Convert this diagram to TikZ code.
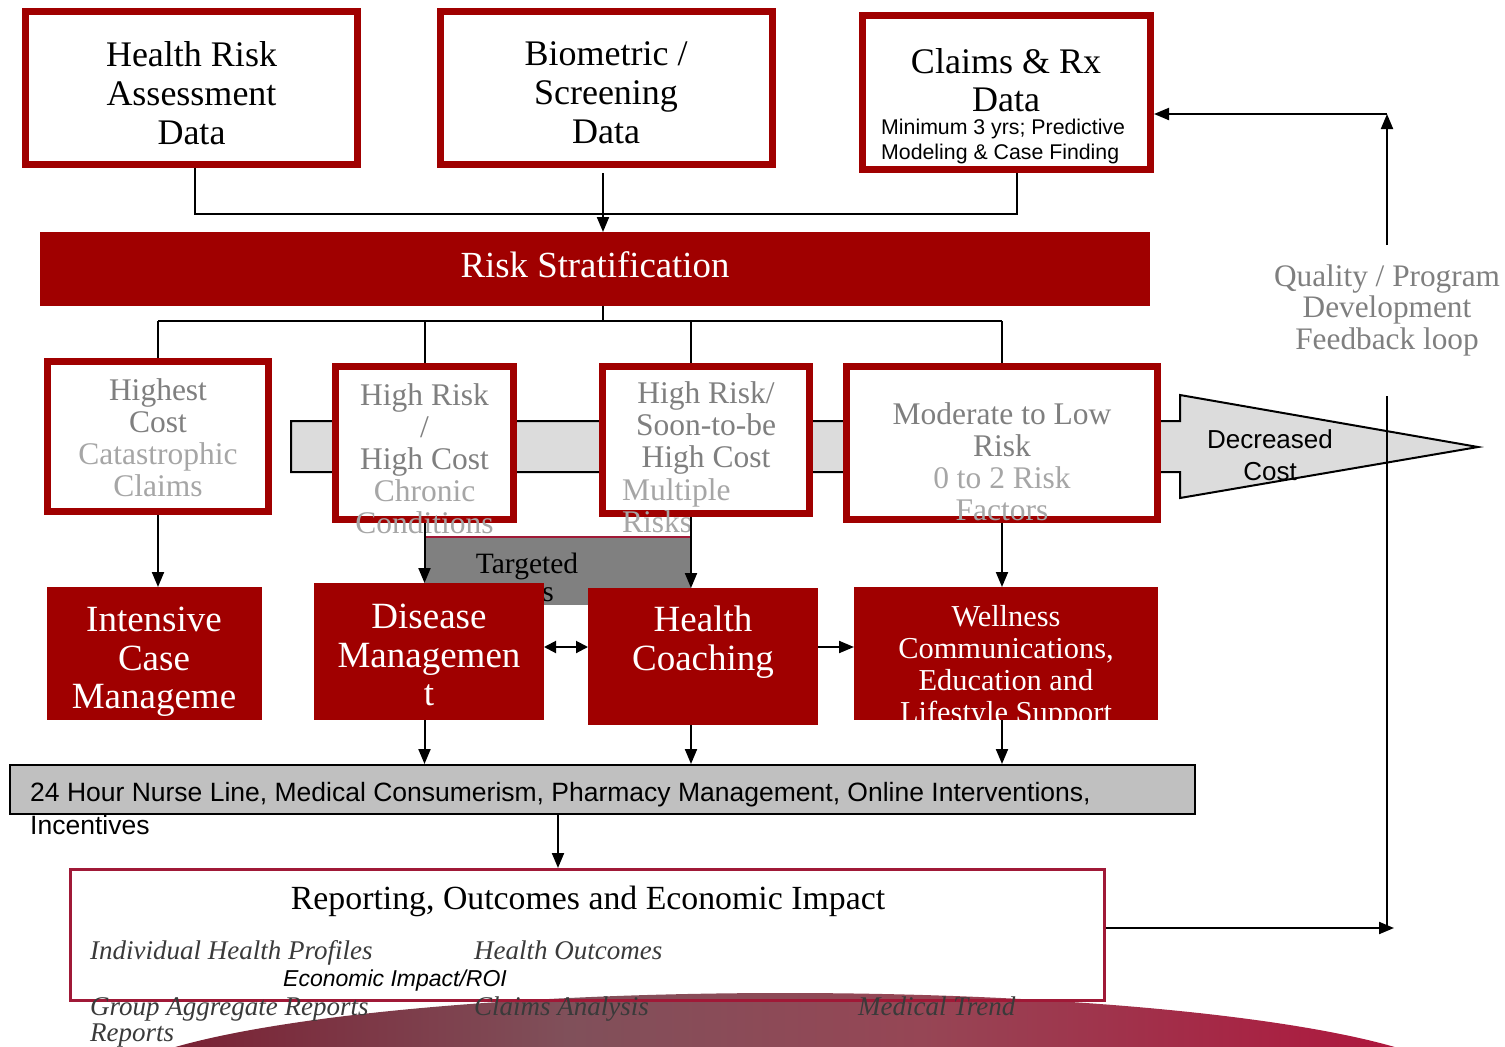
\documentclass[tikz,border=0pt]{standalone}
\usepackage{fontspec}
\setmainfont{Liberation Serif}
\setsansfont{Liberation Sans}
\usetikzlibrary{arrows.meta}
\definecolor{dred}{HTML}{A00000}
\definecolor{rptred}{RGB}{160,25,55}
\definecolor{arrowgray}{HTML}{DCDCDC}
\definecolor{bargray}{HTML}{C0C0C0}
\definecolor{tgtgray}{HTML}{808080}
\definecolor{darkg}{HTML}{7F7F7F}
\definecolor{lightg}{HTML}{A6A6A6}
\definecolor{itgray}{HTML}{3A3A3A}
\definecolor{domeA}{RGB}{120,25,45}
\definecolor{domeB}{RGB}{128,80,90}
\definecolor{domeC}{RGB}{150,70,85}
\definecolor{domeD}{RGB}{178,16,58}
\pgfdeclarehorizontalshading{domeshade}{100bp}{color(0bp)=(domeA); color(25bp)=(domeA); color(42bp)=(domeB); color(55bp)=(domeC); color(75bp)=(domeD); color(100bp)=(domeD)}
\tikzset{
  databox/.style={draw=dred, line width=7pt, fill=white, inner sep=0pt},
  riskbox/.style={draw=dred, line width=7pt, fill=white, inner sep=0pt},
  svcbox/.style={fill=dred, inner sep=0pt, outer sep=0pt},
  conn/.style={draw=black, line width=2pt},
  arr/.style={conn, -{Triangle[length=15pt,width=12pt]}},
  dblarr/.style={conn, {Triangle[length=12pt,width=12pt]}-{Triangle[length=12pt,width=12pt]}},
  bigtxt/.style={align=center, inner sep=0pt, font=\fontsize{36}{39}\selectfont},
  graytxt/.style={align=center, inner sep=0pt, font=\fontsize{31.5}{32}\selectfont},
  whitetxt/.style={align=center, inner sep=0pt, text=white, font=\fontsize{37}{38.5}\selectfont},
  ittxt/.style={anchor=base west, inner sep=0pt, text=itgray, font=\fontsize{27}{30}\selectfont\itshape},
}
\begin{document}
\begin{tikzpicture}[x=1pt,y=-1pt]
\useasboundingbox (0,0) rectangle (1505,1047);

% bottom dome
\begin{scope}
\clip (0,0) rectangle (1505,1047);
\shade[shading=domeshade] (785,1090) ellipse [x radius=680, y radius=97];
\end{scope}

% top data boxes
\node[databox, minimum width=332pt, minimum height=153pt] (hra) at (191.5,88) {};
\node[databox, minimum width=332pt, minimum height=153pt] (bio) at (606.5,88) {};
\node[databox, minimum width=288pt, minimum height=154pt] (claims) at (1006.5,92.5) {};
\node[bigtxt] (hra-t) at (191.5,93) {Health Risk\\Assessment\\Data};
\node[bigtxt] (bio-t) at (606,93) {Biometric /\\Screening\\Data};
\node[bigtxt, font=\fontsize{36}{38}\selectfont] (claims-t) at (1006,80) {Claims \& Rx\\Data};
\node[anchor=west, align=left, inner sep=0pt, font=\sffamily\fontsize{21.3}{25}\selectfont] (claims-s) at (881,141) {Minimum 3 yrs; Predictive\\Modeling \& Case Finding};

% risk stratification
\node[svcbox, minimum width=1110pt, minimum height=74pt] (rs) at (595,269) {};
\node[inner sep=0pt, text=white, font=\fontsize{36.8}{40}\selectfont] (rs-t) at (595,265) {Risk Stratification};

% connectors into risk stratification
\coordinate (topjoin) at (603,214);
\draw[conn] ([xshift=3.5pt]hra.south) -- ([xshift=3.5pt]hra.south |- topjoin) -- ([xshift=10.5pt]claims.south |- topjoin) -- ([xshift=10.5pt]claims.south);
\draw[arr] ([xshift=-3.5pt,yshift=-5pt]bio.south) -- ([xshift=-3.5pt]bio.south |- rs.north);

% big gray arrow
\draw[line width=2pt, fill=arrowgray] (291,421) -- (1180,421) -- (1180,395) -- (1478,447) -- (1180,498) -- (1180,472) -- (291,472) -- cycle;
\node[align=center, inner sep=0pt, font=\sffamily\fontsize{26}{32}\selectfont] (dec-t) at (1270,455) {Decreased\\Cost};

% risk boxes
\node[riskbox, minimum width=221pt, minimum height=150pt] (highest) at (158,436.5) {};
\node[riskbox, minimum width=178pt, minimum height=153pt] (hrhc) at (424.5,443) {};
\node[riskbox, minimum width=207pt, minimum height=147pt] (soon) at (706,440) {};
\node[riskbox, minimum width=311pt, minimum height=153pt] (mod) at (1002,443) {};

% branch lines
\coordinate (hub) at (603,321);
\draw[conn] (rs.south -| hub) -- (hub);
\draw[conn] (highest.north |- hub) -- (mod.north |- hub);
\draw[conn] (highest.north |- hub) -- (highest.north);
\draw[conn] (hrhc.north |- hub) -- (hrhc.north);
\draw[conn] ([xshift=-15pt]soon.north |- hub) -- ([xshift=-15pt]soon.north);
\draw[conn] (mod.north |- hub) -- (mod.north);

% targeted box
\node[fill=tgtgray, minimum width=266pt, minimum height=68pt, inner sep=0pt] (tgt) at (558,571) {};
\draw[rptred, line width=1.5pt] (tgt.north west) -- (tgt.north east);
\node[inner sep=0pt, font=\fontsize{29.5}{30}\selectfont] (tgt-t) at (527,566) {Targeted};
\node[inner sep=0pt, font=\fontsize{29.5}{30}\selectfont] (tgt-s) at (548,595) {s};

% service boxes
\node[svcbox, minimum width=215pt, minimum height=133pt] (ic) at (154.5,653.5) {};
\node[svcbox, minimum width=230pt, minimum height=137pt] (dm) at (429,651.5) {};
\node[svcbox, minimum width=230pt, minimum height=137pt] (hcoach) at (703,656.5) {};
\node[svcbox, minimum width=304pt, minimum height=133pt] (well) at (1006,653.5) {};

% risk box texts
\node[graytxt] (highest-t) at (158,437.5) {\textcolor{darkg}{Highest}\\\textcolor{darkg}{Cost}\\\textcolor{lightg}{Catastrophic}\\\textcolor{lightg}{Claims}};
\node[graytxt] (hrhc-t) at (424.5,458.5) {\textcolor{darkg}{High Risk}\\\textcolor{darkg}{/}\\\textcolor{darkg}{High Cost}\\\textcolor{lightg}{Chronic}\\\textcolor{lightg}{Conditions}};
\node[graytxt] (soon-t) at (706,427.5) {\textcolor{darkg}{High Risk/}\\\textcolor{darkg}{Soon-to-be}\\\textcolor{darkg}{High Cost}};
\node[graytxt, anchor=west, align=left] (soon-s) at (622,506) {\textcolor{lightg}{Multiple}\\\textcolor{lightg}{Risks}};
\node[graytxt] (mod-t) at (1002,461.5) {\textcolor{darkg}{Moderate to Low}\\\textcolor{darkg}{Risk}\\\textcolor{lightg}{0 to 2 Risk}\\\textcolor{lightg}{Factors}};

% arrows down to services
\draw[arr] (highest.south) -- (highest.south |- ic.north);
\draw[arr] (hrhc.south) -- (hrhc.south |- dm.north);
\draw[arr] ([xshift=-15pt]soon.south) -- ([xshift=-15pt]soon.south |- hcoach.north);
\draw[arr] (mod.south) -- (mod.south |- well.north);

% service texts
\node[whitetxt] (ic-t) at (154,662) {Intensive\\Case\\Manageme};
\node[whitetxt] (dm-t) at (429,655) {Disease\\Managemen\\t};
\node[whitetxt] (hcoach-t) at (703,642) {Health\\Coaching};
\begin{scope}
\clip (well.south west) rectangle (well.north east);
\node[whitetxt, font=\fontsize{30.4}{32}\selectfont] (well-t) at (1006,667) {Wellness\\Communications,\\Education and\\Lifestyle Support};
\end{scope}

% horizontal arrows between services
\draw[dblarr] ([yshift=4.5pt]dm.east) -- ([yshift=4.5pt]dm.east -| hcoach.west);
\draw[arr] ([yshift=9.5pt]hcoach.east) -- ([yshift=9.5pt]hcoach.east -| well.west);

% nurse line bar
\node[draw=black, line width=2pt, fill=bargray, minimum width=1185pt, minimum height=49pt, inner sep=0pt] (nurse) at (602.5,789.5) {};
\node[anchor=base west, align=left, inner sep=0pt, font=\sffamily\fontsize{26.5}{33}\selectfont] (nurse-t) at (30,834.5) {24 Hour Nurse Line, Medical Consumerism, Pharmacy Management, Online Interventions,\\Incentives};

\draw[arr] (hrhc.south |- dm.south) -- (hrhc.south |- nurse.north);
\draw[arr] ([xshift=-15pt]soon.south |- hcoach.south) -- ([xshift=-15pt]soon.south |- nurse.north);
\draw[arr] (mod.south |- well.south) -- (mod.south |- nurse.north);

% reporting box
\node[draw=rptred, line width=3pt, minimum width=1034pt, minimum height=131pt, inner sep=0pt] (report) at (587.5,935) {};
\draw[arr] ([xshift=-29.5pt]report.north |- nurse.south) -- ([xshift=-29.5pt]report.north);
\node[inner sep=0pt, font=\fontsize{33.8}{36}\selectfont] (report-t) at (588,901) {Reporting, Outcomes and Economic Impact};
\node[ittxt] (ihp) at (90,959) {Individual Health Profiles};
\node[ittxt] (ho) at (474,959) {Health Outcomes};
\node[anchor=base west, inner sep=0pt, font=\sffamily\itshape\fontsize{23}{26}\selectfont] (roi) at (283,986) {Economic Impact/ROI};
\node[ittxt] (gar) at (90,1015) {Group Aggregate Reports};
\node[ittxt] (ca) at (474,1015) {Claims Analysis};
\node[ittxt] (mt) at (858,1015) {Medical Trend};
\node[ittxt] (rep2) at (90,1041) {Reports};

% feedback loop
\coordinate (fbend) at (1394,928);
\coordinate (fbbot) at (1387,928);
\coordinate (fblow) at (1387,396);
\coordinate (fbhigh) at (1387,245);
\coordinate (fbtop) at (1387,114);
\node[align=center, inner sep=0pt, text=darkg, font=\fontsize{31.3}{31.5}\selectfont] (fb-t) at (1387,310) {Quality / Program\\Development\\Feedback loop};
\draw[arr] ([yshift=7pt]report.east) -- (fbend);
\draw[conn] (fbbot) -- (fblow);
\draw[arr] (fbhigh) -- (fbtop);
\draw[arr] (fbtop) -- ([yshift=-21.5pt]claims.east);
\end{tikzpicture}
\end{document}
